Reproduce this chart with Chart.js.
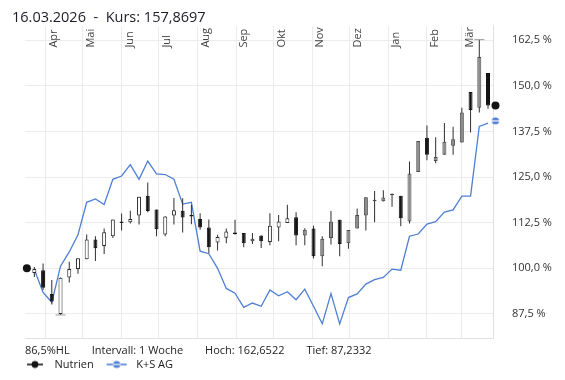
<!DOCTYPE html>
<html lang="de">
<head>
<meta charset="utf-8">
<title>Nutrien vs. K+S AG</title>
<script src="https://cdn.jsdelivr.net/npm/chart.js@4.4.1/dist/chart.umd.min.js"></script>
<style>
html,body{margin:0;padding:0;background:#fff;overflow:hidden;}
canvas{display:block;}
</style>
</head>
<body>
<canvas id="chart" width="565" height="380"></canvas>
<script>
// ---------------- data ----------------
const weekDates = [
  '2025-03-23','2025-03-30','2025-04-06','2025-04-13','2025-04-20','2025-04-27',
  '2025-05-04','2025-05-11','2025-05-18','2025-05-25','2025-06-01','2025-06-08',
  '2025-06-15','2025-06-22','2025-06-29','2025-07-06','2025-07-13','2025-07-20',
  '2025-07-27','2025-08-03','2025-08-10','2025-08-17','2025-08-24','2025-08-31',
  '2025-09-07','2025-09-14','2025-09-21','2025-09-28','2025-10-05','2025-10-12',
  '2025-10-19','2025-10-26','2025-11-02','2025-11-09','2025-11-16','2025-11-23',
  '2025-11-30','2025-12-07','2025-12-14','2025-12-21','2025-12-28','2026-01-04',
  '2026-01-11','2026-01-18','2026-01-25','2026-02-01','2026-02-08','2026-02-15',
  '2026-02-22','2026-03-01','2026-03-08','2026-03-15','2026-03-22'
];
const nutrienOpen = [
  98.7, 99.5, 93.0, 87.5, 97.5, 99.8, 102.5, 107.9, 106.1, 108.8,
  112.4, 112.6, 114.5, 119.9, 116.1, 109.3, 114.5, 115.8, 114.4, 113.5,
  111.2, 107.1, 108.4, 109.7, 109.7, 107.4, 109.0, 107.2, 111.2, 112.4,
  114.0, 109.0, 110.9, 103.3, 108.3, 113.3, 106.9, 110.9, 114.5, 118.4,
  118.4, 120.0, 119.9, 112.8, 126.4, 135.8, 129.4, 131.1, 133.6, 134.5,
  148.3, 144.0, 153.5
];
const nutrienHigh = [
  100.4, 101.3, 96.8, 97.5, 101.8, 102.8, 109.3, 108.8, 110.9, 113.4,
  115.0, 115.8, 119.6, 123.5, 116.1, 114.3, 119.3, 119.2, 117.4, 115.1,
  113.4, 109.2, 110.9, 113.3, 109.7, 109.7, 109.0, 115.1, 114.6, 117.4,
  115.4, 111.0, 111.7, 108.8, 115.7, 113.3, 110.5, 116.4, 119.5, 121.2,
  121.4, 120.5, 119.9, 129.3, 134.9, 139.1, 135.9, 139.8, 138.8, 144.0,
  148.3, 162.6522, 153.5
];
const nutrienLow = [
  97.6, 94.1, 90.1, 87.2332, 96.1, 98.5, 102.5, 102.0, 103.9, 108.3,
  110.4, 112.3, 112.0, 115.4, 108.8, 108.8, 112.0, 109.8, 112.1, 110.6,
  104.2, 104.9, 106.9, 109.2, 105.8, 106.7, 105.6, 106.3, 107.4, 112.4,
  106.3, 106.3, 102.7, 100.6, 106.5, 103.3, 105.4, 110.9, 110.4, 112.6,
  118.3, 116.9, 111.5, 112.3, 126.4, 129.6, 128.8, 131.1, 131.1, 134.5,
  137.2, 142.7, 143.7
];
const nutrienClose = [
  99.8, 94.7, 90.9, 97.4, 99.8, 102.8, 107.9, 105.5, 109.9, 113.4,
  112.5, 113.5, 119.6, 115.7, 110.7, 114.2, 115.9, 113.9, 114.2, 111.2,
  105.8, 108.6, 110.1, 109.4, 106.9, 108.1, 107.4, 111.7, 112.8, 113.7,
  109.0, 110.6, 103.3, 108.1, 112.8, 106.7, 110.5, 114.6, 119.5, 118.5,
  119.4, 120.2, 113.7, 126.0, 134.9, 131.1, 130.5, 134.7, 135.4, 142.7,
  143.4, 157.87, 144.6
];
const ksValues = [
  99.7, 93.4, 90.7, 100.6, 104.5, 109.2, 118.1, 119.0, 117.5, 124.4,
  125.3, 128.4, 124.4, 129.4, 125.9, 125.7, 124.4, 117.6, 118.1, 104.7,
  104.0, 100.0, 94.5, 93.2, 89.3, 90.5, 89.6, 94.1, 92.5, 93.6,
  91.4, 94.3, 89.6, 84.8, 93.1, 84.8, 92.0, 93.0, 95.7, 96.9,
  97.5, 99.8, 99.5, 108.8, 109.4, 112.1, 112.8, 115.4, 116.0, 119.8,
  119.8, 138.9, 139.8
];
const monthTicks = ['2025-04-01','2025-05-01','2025-06-01','2025-07-01','2025-08-01','2025-09-01',
                    '2025-10-01','2025-11-01','2025-12-01','2026-01-01','2026-02-01','2026-03-01'];
const monthLabels = ['Apr','Mai','Jun','Jul','Aug','Sep','Okt','Nov','Dez','Jan','Feb','Mär'];
const yTickValues = [87.5, 100, 112.5, 125, 137.5, 150, 162.5];
const startDate = '2025-03-17';
const startValue = 100;
const endDate = '2026-03-28';
const ksEndValue = 140.4;
const axisStart = '2025-03-15';
const axisEnd = '2026-03-26';
const seriesNames = ['Nutrien', 'K+S AG'];
const headerText = '16.03.2026  -  Kurs: 157,8697';
const hlText = '86,5%HL';
const intervalText = 'Intervall: 1 Woche';

// ---------------- helpers ----------------
const day = s => { const [y, m, d] = s.split('-').map(Number); return Date.UTC(y, m - 1, d) / 86400000; };
const fmtPct = v => v.toFixed(1).replace('.', ',') + ' %';
const fmt4 = v => v.toFixed(4).replace('.', ',');
const FONT = '"Open Sans", "DejaVu Sans", sans-serif';

const hiVal = Math.max(...nutrienHigh), hiIdx = nutrienHigh.indexOf(hiVal);
const loVal = Math.min(...nutrienLow), loIdx = nutrienLow.indexOf(loVal);
const infoText = hlText + '\u2003\u2003' + intervalText + '\u2003\u2003Hoch: ' + fmt4(hiVal) + '\u2003\u2003Tief: ' + fmt4(loVal);

// styles
const BLACK = '#141414', WHITE = '#ffffff', GRAY = '#8c8c8c', BLUE = '#4f7fd3', GRID = '#ececec';
const grayFrom = day('2025-10-20');
const bodyFill = weekDates.map((d, i) => nutrienClose[i] < nutrienOpen[i] ? BLACK : (day(d) >= grayFrom ? GRAY : WHITE));
const bodyBorder = weekDates.map((d, i) => nutrienClose[i] < nutrienOpen[i] ? BLACK : (day(d) >= grayFrom ? '#4a4a4a' : '#2a2a2a'));

function makeIcon(w, h, draw) { const c = document.createElement('canvas'); c.width = w; c.height = h; draw(c.getContext('2d')); return c; }
const nutrienIcon = makeIcon(35, 10, g => {
  g.strokeStyle = BLACK; g.lineWidth = 1.6; g.beginPath(); g.moveTo(13, 5); g.lineTo(29, 5); g.stroke();
  g.fillStyle = BLACK; g.beginPath(); g.arc(21, 5, 3.4, 0, Math.PI * 2); g.fill();
});
function ksDot(g, cx, cy) {
  g.fillStyle = BLUE; g.beginPath(); g.arc(cx, cy, 3.6, 0, Math.PI * 2); g.fill();
  g.strokeStyle = '#fff'; g.lineWidth = 1.2; g.beginPath(); g.moveTo(cx - 4, cy); g.lineTo(cx + 4, cy); g.stroke();
}
const ksIcon = makeIcon(35, 10, g => {
  g.strokeStyle = BLUE; g.lineWidth = 1.6; g.beginPath(); g.moveTo(11, 5); g.lineTo(31, 5); g.stroke();
  ksDot(g, 21, 5);
});
const ksMarker = makeIcon(10, 10, g => ksDot(g, 5, 5));
const legendIcons = { 'Nutrien': nutrienIcon, 'K+S AG': ksIcon };
const AX = { xAxisID: 'x', yAxisID: 'y' };

// ---------------- chart ----------------
new Chart(document.getElementById('chart'), {
  type: 'bar',
  data: {
    datasets: [
      { ...AX, type: 'line', label: seriesNames[0], showLine: false, clip: false, order: 1,
        data: [{ x: day(startDate), y: startValue }, { x: day(endDate), y: nutrienClose[nutrienClose.length - 1] }],
        pointRadius: 4, pointHoverRadius: 8, pointBackgroundColor: BLACK, pointBorderColor: BLACK, pointBorderWidth: 0 },
      { ...AX, type: 'line', label: seriesNames[1], order: 5, clip: false,
        data: weekDates.map((d, i) => ({ x: day(d), y: ksValues[i] })),
        borderColor: BLUE, borderWidth: 1.3, pointRadius: 0, tension: 0, fill: false },
      { ...AX, type: 'line', label: 'ksEnd', showLine: false, clip: false, order: 1,
        data: [{ x: day(endDate), y: ksEndValue }],
        pointStyle: ksMarker, pointRadius: 4, pointHoverRadius: 8 },
      { ...AX, type: 'bar', label: 'wick', order: 4, grouped: false,
        data: weekDates.map((d, i) => ({ x: day(d), y: [nutrienLow[i], nutrienHigh[i]] })),
        backgroundColor: '#2e2e2e', borderWidth: 0, barThickness: 1, inflateAmount: 0, minBarLength: 1 },
      { ...AX, type: 'bar', label: 'body', order: 3, grouped: false,
        data: weekDates.map((d, i) => ({ x: day(d), y: [nutrienOpen[i], nutrienClose[i]] })),
        backgroundColor: bodyFill, borderColor: bodyBorder, borderWidth: 1, borderSkipped: false,
        barThickness: 4, inflateAmount: 0, minBarLength: 1.5 },
      { ...AX, type: 'line', label: 'hilo', showLine: false, clip: false, order: 2,
        data: [{ x: day(weekDates[hiIdx]), y: hiVal }, { x: day(weekDates[loIdx]), y: loVal }],
        pointStyle: 'line', pointRadius: 5, pointBorderColor: '#9a9a9a', pointBorderWidth: 1 }
    ]
  },
  options: {
    responsive: false, animation: false, events: [], devicePixelRatio: 1,
    layout: { padding: { left: 12, right: 0, top: 0, bottom: 0 }, autoPadding: false },
    scales: {
      x: {
        type: 'linear', position: 'top', offset: false, min: day(axisStart) + 0.5, max: day(axisEnd),
        afterBuildTicks: s => { s.ticks = monthTicks.map(m => ({ value: day(m) })); },
        afterFit: s => { s.height = 0; },
        ticks: { autoSkip: false, minRotation: 90, maxRotation: 90, mirror: true, padding: 22, labelOffset: 8,
                 callback: (v, i) => monthLabels[i], color: '#444', font: { family: FONT, size: 11 } },
        grid: { color: GRID, drawTicks: false, offset: false },
        border: { display: false }
      },
      x2: {
        type: 'linear', position: 'bottom', display: true, offset: false,
        grid: { display: false, drawTicks: false },
        ticks: { display: false },
        border: { display: true, color: '#e2e2e2' },
        title: { display: true, text: infoText, align: 'start', color: '#222',
                 font: { family: FONT, size: 11 }, padding: { top: 5, bottom: 0 } }
      },
      y: {
        type: 'linear', position: 'right', min: 80.7, max: 166.5,
        afterBuildTicks: s => { s.ticks = yTickValues.map(v => ({ value: v })); },
        afterFit: s => { s.width = 72; },
        ticks: { padding: 19, callback: v => fmtPct(v), color: '#333', font: { family: FONT, size: 11 } },
        grid: { color: GRID, drawTicks: false },
        border: { display: true, color: '#e2e2e2' }
      },
      yl: {
        type: 'linear', position: 'left', display: true,
        grid: { display: false, drawTicks: false }, ticks: { display: false }, border: { display: false },
        afterFit: s => { s.width = 13; }
      }
    },
    plugins: {
      title: { display: true, text: headerText, align: 'start', color: '#1c1c28',
               font: { family: FONT, size: 14.5, weight: 'normal', lineHeight: 1.1 }, padding: { top: 6, bottom: 0 } },
      legend: {
        display: true, position: 'bottom', align: 'start',
        labels: {
          usePointStyle: true, pointStyleWidth: 35, padding: 2, color: '#222', font: { family: FONT, size: 11 },
          generateLabels: chart => Chart.defaults.plugins.legend.labels.generateLabels(chart)
            .filter(it => legendIcons[it.text])
            .map(it => Object.assign(it, { pointStyle: legendIcons[it.text] }))
        }
      },
      tooltip: { enabled: false }
    }
  }
});
</script>
</body>
</html>
